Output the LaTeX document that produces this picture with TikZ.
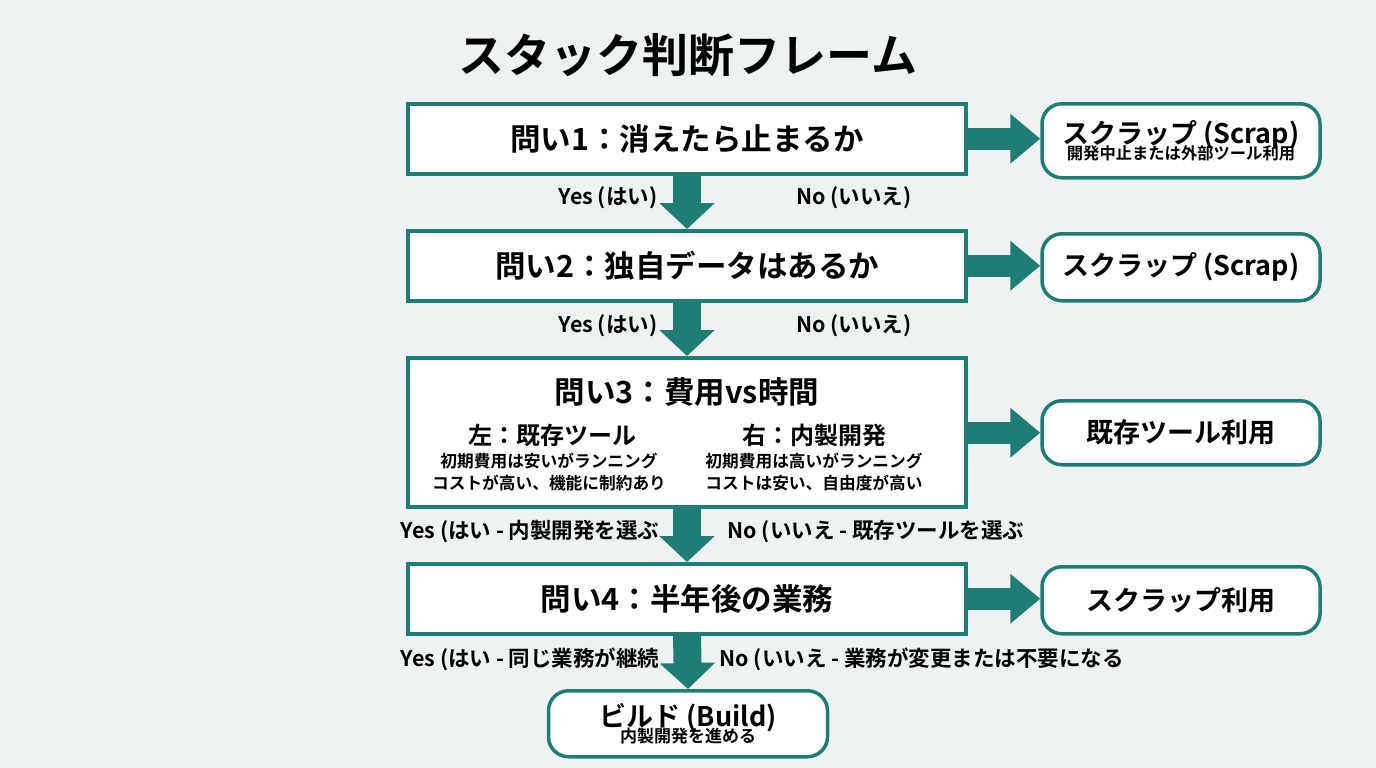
\documentclass[tikz,border=0pt]{standalone}
\usepackage{fontspec}
\setmainfont{Noto Sans CJK JP}[BoldFont={Noto Sans CJK JP Bold}]
\usetikzlibrary{arrows.meta}
\definecolor{teal1}{HTML}{1E7D74}
\definecolor{bgc}{HTML}{EEF2F3}
\begin{document}
\begin{tikzpicture}[x=1pt,y=-1pt,
 q/.style={draw=teal1,line width=3.5pt,fill=white,minimum width=558pt,anchor=north,font=\bfseries\fontsize{30.5}{34}\selectfont},
 r/.style={draw=teal1,line width=3.5pt,fill=white,rounded corners=20pt,minimum width=278pt,anchor=north,align=center},
 darr/.style={teal1,line width=28pt,-{Triangle[length=26pt,width=54pt]}},
 rarr/.style={teal1,line width=22pt,-{Triangle[length=30pt,width=48pt]}},
 lbl/.style={font=\bfseries\fontsize{21.5}{24}\selectfont}]
\fill[bgc] (0,0) rectangle (1376,768);
\node[font=\bfseries\fontsize{46}{52}\selectfont] (title) at (688,55) {スタック判断フレーム};
\node[q,minimum height=70pt] (b1) at (687,102) {問い1：消えたら止まるか};
\node[q,minimum height=70pt] (b2) at (687,229) {問い2：独自データはあるか};
\node[q,minimum height=149pt] (b3) at (687,356) {};
\node[q,minimum height=70pt] (b4) at (687,562) {問い4：半年後の業務};
\node[font=\bfseries\fontsize{30.5}{34}\selectfont] (t3) at (687,392) {問い3：費用vs時間};
\node[font=\bfseries\fontsize{24}{28}\selectfont] (l3) at (552,435) {左：既存ツール};
\node[font=\bfseries\fontsize{16.7}{22}\selectfont,align=center] (l3t) at (549,472) {初期費用は安いがランニング\\コストが高い、機能に制約あり};
\node[font=\bfseries\fontsize{24}{28}\selectfont] (r3) at (814,435) {右：内製開発};
\node[font=\bfseries\fontsize{16.7}{22}\selectfont,align=center] (r3t) at (814,472) {初期費用は高いがランニング\\コストは安い、自由度が高い};
\node[r,minimum height=74pt] (s1) at (1181,102) {{\bfseries\fontsize{27}{30}\selectfont スクラップ (Scrap)}\\[-4pt]{\bfseries\fontsize{16.3}{18}\selectfont 開発中止または外部ツール利用}};
\node[r,minimum height=67pt,font=\bfseries\fontsize{27}{30}\selectfont] (s2) at (1181,232) {スクラップ (Scrap)};
\node[r,minimum height=64pt,font=\bfseries\fontsize{27}{30}\selectfont] (s3) at (1181,399) {既存ツール利用};
\node[r,minimum height=67pt,font=\bfseries\fontsize{27}{30}\selectfont] (s4) at (1181,565) {スクラップ利用};
\node[r,minimum width=279pt,minimum height=66pt] (bd) at (688,689) {{\bfseries\fontsize{27}{30}\selectfont ビルド (Build)}\\[-4pt]{\bfseries\fontsize{17}{19}\selectfont 内製開発を進める}};
\draw[darr] (b1.south) -- (b2.north);
\draw[darr] (b2.south) -- (b3.north);
\draw[darr] (b3.south) -- (b4.north);
\draw[darr] (b4.south) -- (bd.north);
\draw[rarr] (b1.east) -- (s1.west |- b1.east);
\draw[rarr] (b2.east) -- (s2.west |- b2.east);
\draw[rarr] (b3.east|-s3.west) -- (s3.west);
\draw[rarr] (b4.east) -- (s4.west |- b4.east);
\node[lbl] (y1) at (608,198) {Yes (はい)};
\node[lbl] (n1) at (854,198) {No (いいえ)};
\node[lbl] (y2) at (608,326) {Yes (はい)};
\node[lbl] (n2) at (854,326) {No (いいえ)};
\node[lbl,anchor=east] (y3) at (663,532) {Yes (はい - 内製開発を選ぶ};
\node[lbl,anchor=west] (n3) at (724,532) {No (いいえ - 既存ツールを選ぶ};
\node[lbl,anchor=east] (y4) at (663,659) {Yes (はい - 同じ業務が継続};
\node[lbl,anchor=west] (n4) at (716,659) {No (いいえ - 業務が変更または不要になる};
\end{tikzpicture}
\end{document}
